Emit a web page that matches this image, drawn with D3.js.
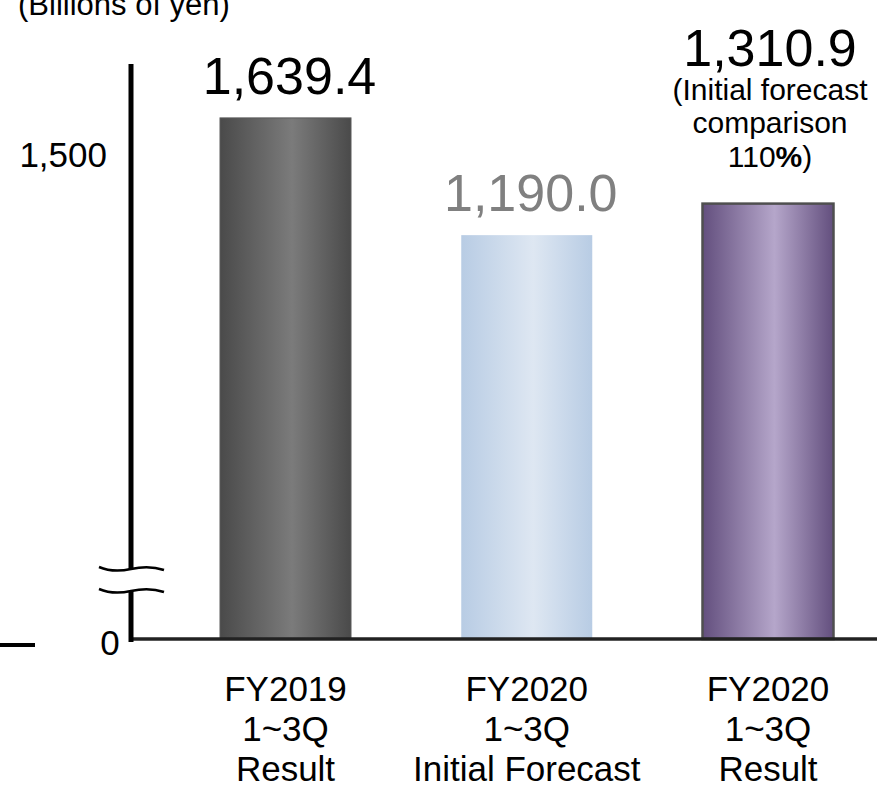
<!DOCTYPE html>
<html>
<head>
<meta charset="utf-8">
<script src="https://cdn.jsdelivr.net/npm/d3@7"></script>
<style>
  body { margin: 0; background: #fff; }
  svg { display: block; }
  text { font-family: "Liberation Sans", Arial, Helvetica, sans-serif; }
</style>
</head>
<body>
<svg id="chart" width="877" height="785"></svg>
<script>
// ---- data ----
const categories = ["FY2019 1~3Q Result", "FY2020 1~3Q Initial Forecast", "FY2020 1~3Q Result"];
const categoryLines = [
  ["FY2019", "1~3Q", "Result"],
  ["FY2020", "1~3Q", "Initial Forecast"],
  ["FY2020", "1~3Q", "Result"]
];
const values = [1639.4, 1190.0, 1310.9];
const yTicks = [1500];
const zeroTick = [0];
const unitLabel = "(Billions of yen)";
const noteLines = ["(Initial forecast", "comparison", "110"];

// ---- styles ----
const barStyles = [
  { edge: "#4a4a4a", mid: "#7b7b7b", stroke: "#5a5a5a", strokeWidth: 1, label: "#000" },
  { edge: "#b8cce4", mid: "#dee7f2", stroke: "none", strokeWidth: 0, label: "#808080" },
  { edge: "#634f7e", mid: "#b5a6ca", stroke: "#4f4f4f", strokeWidth: 2.5, label: "#000" }
];

const W = 877, H = 785;
const baseY = 639;          // zero line
const axisX = 131;
const axisTop = 64;
const breakY = [569, 591];  // break symbols on the value axis
const barWidth = 131;

const svg = d3.select("#chart");
const fmt = d3.format(",.1f");

// upper (broken) segment of the value axis
const y = d3.scaleLinear().domain([1000, 1700]).range([284.7, 102.1]);
// category positions
const x = d3.scalePoint().domain(categories).range([285.5, 768]);

// gradients
const defs = svg.append("defs");
barStyles.forEach((s, i) => {
  const g = defs.append("linearGradient").attr("id", "grad" + i)
    .attr("x1", "0%").attr("x2", "100%").attr("y1", "0%").attr("y2", "0%");
  g.append("stop").attr("offset", "0%").attr("stop-color", s.edge);
  g.append("stop").attr("offset", "55%").attr("stop-color", s.mid);
  g.append("stop").attr("offset", "100%").attr("stop-color", s.edge);
});

// unit label
svg.append("text").attr("x", 18).attr("y", 15)
  .attr("font-size", 31).attr("fill", "#000").text(unitLabel);

// bars
svg.append("g").selectAll("rect").data(values).join("rect")
  .attr("x", (d, i) => x(categories[i]) - barWidth / 2)
  .attr("y", d => y(d))
  .attr("width", barWidth)
  .attr("height", d => baseY - y(d))
  .attr("fill", (d, i) => `url(#grad${i})`)
  .attr("stroke", (d, i) => barStyles[i].stroke)
  .attr("stroke-width", (d, i) => barStyles[i].strokeWidth);

// baseline
svg.append("line").attr("x1", axisX).attr("x2", W).attr("y1", baseY).attr("y2", baseY)
  .attr("stroke", "#222").attr("stroke-width", 3.5);

// value axis line with a break
svg.append("line").attr("x1", axisX).attr("x2", axisX).attr("y1", axisTop).attr("y2", breakY[0])
  .attr("stroke", "#000").attr("stroke-width", 5);
svg.append("line").attr("x1", axisX).attr("x2", axisX).attr("y1", breakY[1]).attr("y2", baseY + 3)
  .attr("stroke", "#000").attr("stroke-width", 5);
breakY.forEach(by => {
  svg.append("path")
    .attr("d", `M99,${by - 2} Q113,${by + 4} 131,${by} T164,${by + 1}`)
    .attr("fill", "none").attr("stroke", "#000").attr("stroke-width", 2.5);
});

// tick labels
const axisG = svg.append("g").attr("transform", `translate(${axisX - 24},0)`)
  .call(d3.axisLeft(y).tickValues(yTicks).tickSize(0).tickFormat(d3.format(",")));
axisG.select(".domain").remove();
axisG.selectAll("text").attr("font-size", 35).attr("font-family", null)
  .attr("fill", "#000").attr("x", 0).attr("dy", "0.36em");

svg.append("g").selectAll("text").data(zeroTick).join("text")
  .attr("x", 110).attr("y", baseY + 16).attr("text-anchor", "middle")
  .attr("font-size", 35).attr("fill", "#000").text(d => d);

// short dash at left of the zero line
svg.append("line").attr("x1", 0).attr("x2", 35).attr("y1", 645).attr("y2", 645)
  .attr("stroke", "#000").attr("stroke-width", 4);

// value labels
values.forEach((v, i) => {
  const cx = x(categories[i]);
  const top = y(v);
  if (i === 2) {
    svg.append("text").attr("x", cx + 2).attr("y", top - 138).attr("text-anchor", "middle")
      .attr("font-size", 52).attr("fill", barStyles[i].label).text(fmt(v));
    const offs = [-104, -71, -37];
    noteLines.forEach((t, k) => {
      const tx = svg.append("text").attr("x", cx + 2).attr("y", top + offs[k])
        .attr("text-anchor", "middle").attr("font-size", 30).attr("fill", "#000");
      tx.append("tspan").text(t);
      if (k === 2) {
        tx.append("tspan").attr("font-weight", "bold").text("%");
        tx.append("tspan").text(")");
      }
    });
  } else {
    svg.append("text").attr("x", cx + 4).attr("y", top - 24).attr("text-anchor", "middle")
      .attr("font-size", 52).attr("fill", barStyles[i].label).text(fmt(v));
  }
});

// category labels
categoryLines.forEach((lines, i) => {
  const t = svg.append("text").attr("text-anchor", "middle").attr("font-size", 35).attr("fill", "#000");
  lines.forEach((ln, k) => {
    t.append("tspan").attr("x", x(categories[i])).attr("y", 701 + k * 40).text(ln);
  });
});
</script>
</body>
</html>
